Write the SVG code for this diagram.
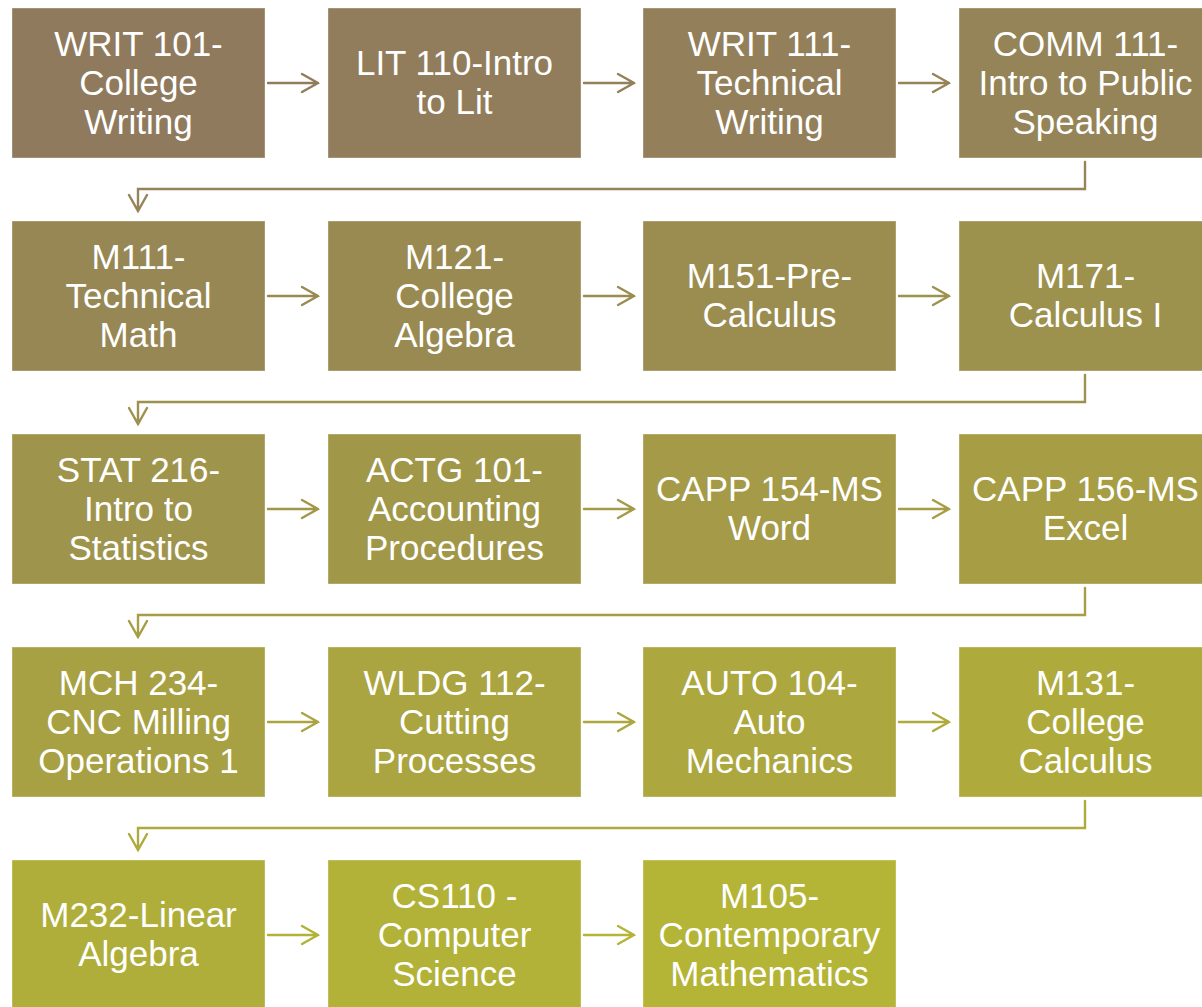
<svg xmlns="http://www.w3.org/2000/svg" width="1202" height="1007" viewBox="0 0 1202 1007">
<style>
.box{stroke:#ffffff;stroke-opacity:0.35;stroke-width:1}
.t{font-family:"Liberation Sans",Arial,sans-serif;font-size:35px;fill:#ffffff;text-anchor:middle}
.c{fill:none;stroke-width:2.4;stroke-linecap:round;stroke-linejoin:miter}
</style>
<rect width="1202" height="1007" fill="#ffffff"/>
<g id="connectors">
<path class="c" stroke="#917D5B" d="M268,83H318M302,74L318,83L302,92"/>
<path class="c" stroke="#93805A" d="M584,83H634M618,74L634,83L618,92"/>
<path class="c" stroke="#958457" d="M899,83H949M933,74L949,83L933,92"/>
<path class="c" stroke="#958457" d="M1085,162V189H138V211M129,195L138,211L147,195"/>
<path class="c" stroke="#998A52" d="M268,296H318M302,287L318,296L302,305"/>
<path class="c" stroke="#9B8D50" d="M584,296H634M618,287L634,296L618,305"/>
<path class="c" stroke="#9D914E" d="M899,296H949M933,287L949,296L933,305"/>
<path class="c" stroke="#9D914E" d="M1085,375V402H138V424M129,408L138,424L147,408"/>
<path class="c" stroke="#A19749" d="M268,509H318M302,500L318,509L302,518"/>
<path class="c" stroke="#A49A47" d="M584,509H634M618,500L634,509L618,518"/>
<path class="c" stroke="#A69D45" d="M899,509H949M933,500L949,509L933,518"/>
<path class="c" stroke="#A69D45" d="M1085,588V615H138V637M129,621L138,637L147,621"/>
<path class="c" stroke="#AAA441" d="M268,722H318M302,713L318,722L302,731"/>
<path class="c" stroke="#ACA73F" d="M584,722H634M618,713L634,722L618,731"/>
<path class="c" stroke="#AEAA3C" d="M899,722H949M933,713L949,722L933,731"/>
<path class="c" stroke="#AEAA3C" d="M1085,801V828H138V850M129,834L138,850L147,834"/>
<path class="c" stroke="#B2B138" d="M268,935H318M302,926L318,935L302,944"/>
<path class="c" stroke="#B4B436" d="M584,935H634M618,926L634,935L618,944"/>
</g>
<g id="n1"><rect class="box" x="12" y="8" width="253" height="150" fill="#8F7A5D"/><text class="t" x="138.5" y="56">WRIT 101-</text><text class="t" x="138.5" y="95">College</text><text class="t" x="138.5" y="134">Writing</text></g>
<g id="n2"><rect class="box" x="328" y="8" width="253" height="150" fill="#917D5B"/><text class="t" x="454.5" y="75">LIT 110-Intro</text><text class="t" x="454.5" y="114">to Lit</text></g>
<g id="n3"><rect class="box" x="643" y="8" width="253" height="150" fill="#93805A"/><text class="t" x="769.5" y="56">WRIT 111-</text><text class="t" x="769.5" y="95">Technical</text><text class="t" x="769.5" y="134">Writing</text></g>
<g id="n4"><rect class="box" x="959" y="8" width="253" height="150" fill="#958457"/><text class="t" x="1085.5" y="56">COMM 111-</text><text class="t" x="1085.5" y="95">Intro to Public</text><text class="t" x="1085.5" y="134">Speaking</text></g>

<g id="n5"><rect class="box" x="12" y="221" width="253" height="150" fill="#978754"/><text class="t" x="138.5" y="269">M111-</text><text class="t" x="138.5" y="308">Technical</text><text class="t" x="138.5" y="347">Math</text></g>
<g id="n6"><rect class="box" x="328" y="221" width="253" height="150" fill="#998A52"/><text class="t" x="454.5" y="269">M121-</text><text class="t" x="454.5" y="308">College</text><text class="t" x="454.5" y="347">Algebra</text></g>
<g id="n7"><rect class="box" x="643" y="221" width="253" height="150" fill="#9B8D50"/><text class="t" x="769.5" y="288">M151-Pre-</text><text class="t" x="769.5" y="327">Calculus</text></g>
<g id="n8"><rect class="box" x="959" y="221" width="253" height="150" fill="#9D914E"/><text class="t" x="1085.5" y="288">M171-</text><text class="t" x="1085.5" y="327">Calculus I</text></g>

<g id="n9"><rect class="box" x="12" y="434" width="253" height="150" fill="#9F944C"/><text class="t" x="138.5" y="482">STAT 216-</text><text class="t" x="138.5" y="521">Intro to</text><text class="t" x="138.5" y="560">Statistics</text></g>
<g id="n10"><rect class="box" x="328" y="434" width="253" height="150" fill="#A19749"/><text class="t" x="454.5" y="482">ACTG 101-</text><text class="t" x="454.5" y="521">Accounting</text><text class="t" x="454.5" y="560">Procedures</text></g>
<g id="n11"><rect class="box" x="643" y="434" width="253" height="150" fill="#A49A47"/><text class="t" x="769.5" y="501">CAPP 154-MS</text><text class="t" x="769.5" y="540">Word</text></g>
<g id="n12"><rect class="box" x="959" y="434" width="253" height="150" fill="#A69D45"/><text class="t" x="1085.5" y="501">CAPP 156-MS</text><text class="t" x="1085.5" y="540">Excel</text></g>

<g id="n13"><rect class="box" x="12" y="647" width="253" height="150" fill="#A8A143"/><text class="t" x="138.5" y="695">MCH 234-</text><text class="t" x="138.5" y="734">CNC Milling</text><text class="t" x="138.5" y="773">Operations 1</text></g>
<g id="n14"><rect class="box" x="328" y="647" width="253" height="150" fill="#AAA441"/><text class="t" x="454.5" y="695">WLDG 112-</text><text class="t" x="454.5" y="734">Cutting</text><text class="t" x="454.5" y="773">Processes</text></g>
<g id="n15"><rect class="box" x="643" y="647" width="253" height="150" fill="#ACA73F"/><text class="t" x="769.5" y="695">AUTO 104-</text><text class="t" x="769.5" y="734">Auto</text><text class="t" x="769.5" y="773">Mechanics</text></g>
<g id="n16"><rect class="box" x="959" y="647" width="253" height="150" fill="#AEAA3C"/><text class="t" x="1085.5" y="695">M131-</text><text class="t" x="1085.5" y="734">College</text><text class="t" x="1085.5" y="773">Calculus</text></g>

<g id="n17"><rect class="box" x="12" y="860" width="253" height="150" fill="#B0AE3A"/><text class="t" x="138.5" y="927">M232-Linear</text><text class="t" x="138.5" y="966">Algebra</text></g>
<g id="n18"><rect class="box" x="328" y="860" width="253" height="150" fill="#B2B138"/><text class="t" x="454.5" y="908">CS110 -</text><text class="t" x="454.5" y="947">Computer</text><text class="t" x="454.5" y="986">Science</text></g>
<g id="n19"><rect class="box" x="643" y="860" width="253" height="150" fill="#B4B436"/><text class="t" x="769.5" y="908">M105-</text><text class="t" x="769.5" y="947">Contemporary</text><text class="t" x="769.5" y="986">Mathematics</text></g>
</svg>
